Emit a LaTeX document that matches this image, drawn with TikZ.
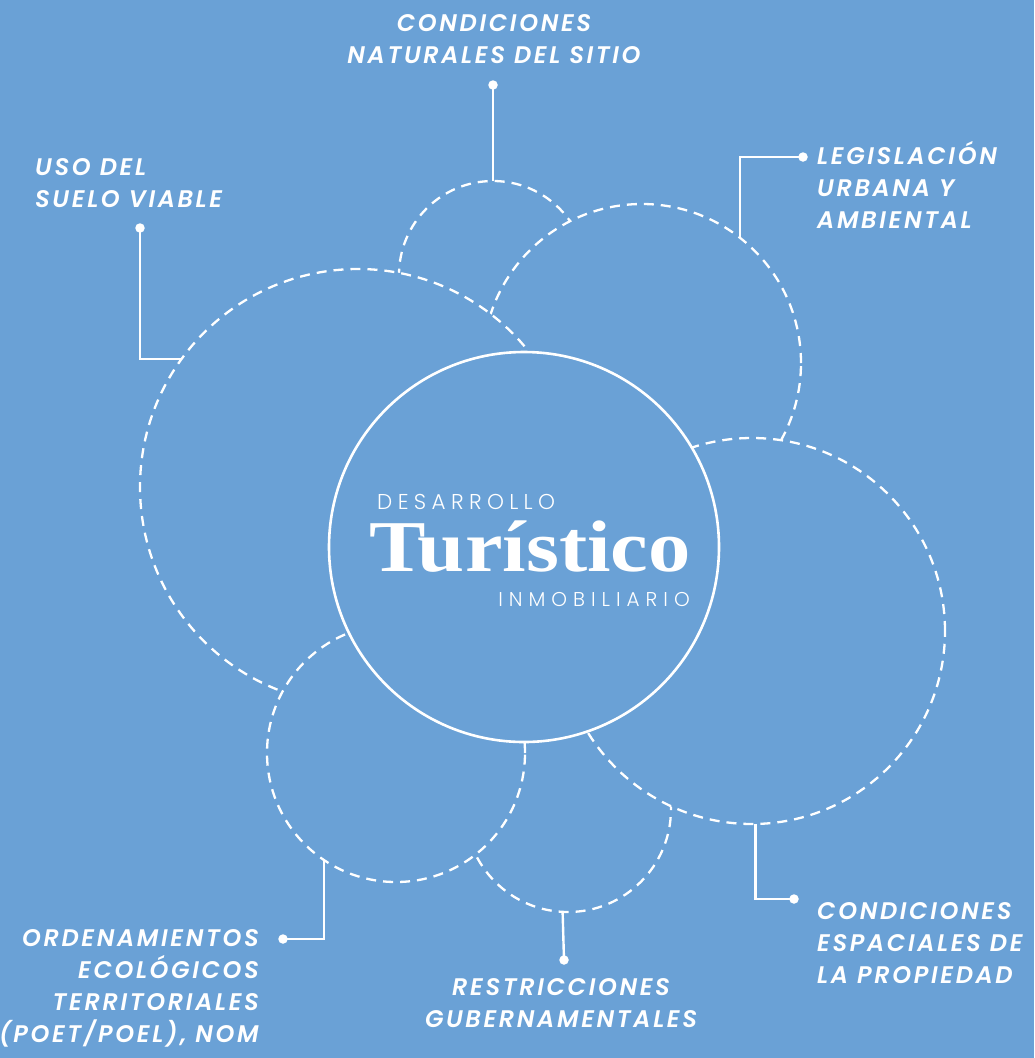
\documentclass[tikz,border=0pt]{standalone}
\usepackage{fontspec}
\newfontfamily\labfont{Poppins SemiBold Italic}[LetterSpace=11]
\newfontfamily\thinfont{Poppins Light}
\newfontfamily\titlefont{Liberation Serif Bold}
\definecolor{bg}{RGB}{106,161,214}
\tikzset{
  ring/.style={circle, draw=white, fill=bg, line width=2.3pt, dash pattern=on 10pt off 7pt, inner sep=0pt, outer sep=0pt},
  core/.style={circle, draw=white, fill=bg, line width=2.6pt, inner sep=0pt, outer sep=0pt},
  dot/.style={circle, fill=white, inner sep=0pt, minimum size=9.5pt, outer sep=0pt},
  link/.style={draw=white, line width=2.4pt},
  lab/.style={text=white, inner sep=0pt, font=\labfont\fontsize{24}{32}\selectfont},
}
\begin{document}
\begin{tikzpicture}[x=1pt,y=-1pt]
\fill[bg] (0,0) rectangle (1034,1058);
\useasboundingbox (0,0) rectangle (1034,1058);
% dashed circles, back to front
\node[ring, minimum size=188pt] (ts) at (493,275) {};
\node[ring, minimum size=318pt] (ur) at (642,363) {};
\node[ring, minimum size=436pt] (bigl) at (358,487) {};
\node[ring, minimum size=206pt] (bm) at (568,809) {};
\node[ring, minimum size=386pt] (br) at (752,631) {};
\node[ring, minimum size=258pt] (bl) at (396,753) {};
% central circle
\node[core, minimum size=390pt] (cc) at (524,547) {};
\node[anchor=base west, inner sep=0pt, text=white, font=\thinfont\fontsize{21.5}{21.5}\selectfont\addfontfeature{LetterSpace=25}] (t1) at (377,509) {DESARROLLO};
\node[anchor=base west, inner sep=0pt, text=white] (t2) at (369,571) {\scalebox{1.16}[1]{\titlefont\fontsize{73}{73}\selectfont Turístico}};
\node[anchor=base east, inner sep=0pt, text=white, font=\thinfont\fontsize{20}{20}\selectfont\addfontfeature{LetterSpace=30}] (t3) at (690,606) {INMOBILIARIO};
% labels (base = last line)
\node[lab, anchor=base, align=center] (lNat) at (494,63) {CONDICIONES\\NATURALES DEL SITIO};
\node[lab, anchor=base west, align=left] (lUso) at (35,207) {USO DEL\\SUELO VIABLE};
\node[lab, anchor=base west, align=left] (lLeg) at (817,228) {LEGISLACIÓN\\URBANA Y\\AMBIENTAL};
\node[lab, anchor=base west, align=left] (lEsp) at (817,983) {CONDICIONES\\ESPACIALES DE\\LA PROPIEDAD};
\node[lab, anchor=base east, align=right] (lOrd) at (259,1042) {ORDENAMIENTOS\\ECOLÓGICOS\\TERRITORIALES\\(POET/POEL), NOM};
\node[lab, anchor=base, align=center] (lRes) at (561,1027) {RESTRICCIONES\\GUBERNAMENTALES};
% dots
\node[dot] (dNat) at (493,85) {};
\node[dot] (dUso) at (140,228) {};
\node[dot] (dLeg) at (803,157) {};
\node[dot] (dEsp) at (794,899) {};
\node[dot] (dOrd) at (283,939) {};
\node[dot] (dRes) at (564,960) {};
% connectors
\draw[link] (dNat.center) -- (ts.north);
\draw[link] (dUso.center) |- (bigl.144.4);
\draw[link] (dLeg.center) -| (ur.52.4);
\draw[link] (dEsp.center) -| (br.271.5);
\draw[link] (dOrd.center) -| (bl.236.1);
\draw[link] (dRes.center) -- (bm.267.8);
\end{tikzpicture}
\end{document}
